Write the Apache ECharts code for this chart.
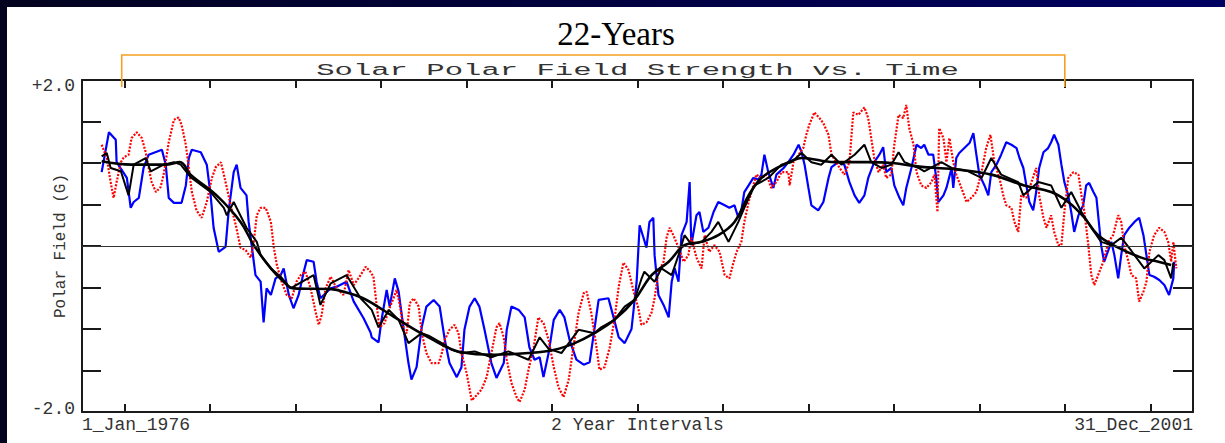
<!DOCTYPE html>
<html>
<head>
<meta charset="utf-8">
<script src="https://cdn.jsdelivr.net/npm/echarts@6/dist/echarts.min.js"></script>
<style>
  html, body { margin: 0; padding: 0; width: 1225px; height: 443px; overflow: hidden;
    background: linear-gradient(to right, #03031f, #000062); }
  #main { position: absolute; left: 7px; top: 7px; width: 1218px; height: 436px; background: #ffffff; }
</style>
</head>
<body>
<div id="main"></div>
<script>
// labels
var chartTitle = '22-Years';
var chartSubtitle = 'Solar Polar Field Strength vs. Time';
var yName = 'Polar Field (G)';
var xLabelText = ['1_Jan_1976', '2 Year Intervals', '31_Dec_2001'];
var xLabelSlot = [0, 13, 26];          // category slots, one slot = 1 year, slot 1 = 1_Jan_1976
var yLabelValue = [2, -2];
var yLabelText = ['+2.0', '-2.0'];
var spanYears = [0, 22];               // the 22-year bracket

// [years from 1_Jan_1976, field]
var bluePts = [[-0.54,0.89],[-0.37,1.37],[-0.21,1.28],[-0.19,1.01],[0.05,0.82],[0.14,0.46],[0.21,0.53],[0.33,0.58],
  [0.44,0.94],[0.56,1.10],[0.87,1.16],[0.96,0.98],[1.03,0.58],[1.15,0.52],[1.33,0.52],[1.43,0.73],[1.50,1.06],
  [1.57,1.16],[1.78,1.13],[1.92,0.98],[2.01,0.61],[2.08,0.22],[2.20,-0.07],[2.36,-0.01],[2.43,0.41],[2.55,0.89],
  [2.62,0.98],[2.71,0.70],[2.85,0.61],[2.90,0.29],[2.97,0.01],[3.06,-0.35],[3.18,-0.43],[3.25,-0.92],[3.32,-0.51],
  [3.42,-0.59],[3.53,-0.39],[3.65,-0.35],[3.72,-0.27],[3.84,-0.59],[3.95,-0.75],[4.07,-0.59],[4.19,-0.31],
  [4.26,-0.17],[4.42,-0.19],[4.49,-0.43],[4.58,-0.63],[4.82,-0.51],[4.96,-0.49],[5.19,-0.43],[5.36,-0.67],
  [5.59,-0.87],[5.75,-1.04],[5.78,-1.10],[5.94,-1.16],[6.01,-0.89],[6.13,-0.53],[6.20,-0.73],[6.32,-0.39],
  [6.41,-0.55],[6.53,-1.01],[6.64,-1.41],[6.71,-1.61],[6.83,-1.46],[6.95,-0.98],[7.06,-0.73],[7.23,-0.65],
  [7.37,-0.73],[7.49,-1.13],[7.60,-1.41],[7.77,-1.58],[7.88,-1.46],[7.95,-1.01],[8.07,-0.73],[8.19,-0.63],
  [8.30,-0.73],[8.42,-1.01],[8.58,-1.41],[8.70,-1.59],[8.87,-1.41],[8.94,-1.01],[9.05,-0.73],[9.22,-0.77],
  [9.36,-0.86],[9.47,-1.22],[9.59,-1.37],[9.71,-1.34],[9.80,-1.58],[9.92,-1.29],[10.04,-0.89],[10.18,-0.77],
  [10.29,-0.86],[10.41,-1.13],[10.57,-1.37],[10.74,-1.43],[10.88,-1.40],[10.99,-1.01],[11.09,-0.65],[11.32,-0.63],
  [11.44,-0.86],[11.56,-1.10],[11.70,-1.17],[11.86,-1.00],[11.98,-0.43],[12.05,0.25],[12.14,0.10],[12.21,-0.02],
  [12.28,0.29],[12.37,0.34],[12.40,-0.11],[12.49,-0.59],[12.61,-0.71],[12.73,-0.86],[12.80,-0.43],[12.87,-0.27],
  [12.96,-0.43],[13.03,0.13],[13.15,0.29],[13.22,0.77],[13.26,0.01],[13.38,0.37],[13.45,0.41],[13.54,0.17],
  [13.66,0.22],[13.78,0.41],[13.89,0.53],[14.04,0.49],[14.15,0.46],[14.27,0.49],[14.36,0.34],[14.43,0.43],
  [14.50,0.65],[14.60,0.73],[14.71,0.82],[14.83,0.80],[14.90,0.86],[14.97,1.10],[15.06,0.89],[15.18,0.70],
  [15.25,0.86],[15.42,0.94],[15.53,1.01],[15.65,1.10],[15.77,1.22],[15.84,1.13],[15.91,0.98],[16.00,0.70],
  [16.07,0.49],[16.23,0.43],[16.35,0.53],[16.47,0.82],[16.54,0.95],[16.70,1.01],[16.84,0.98],[16.96,0.77],
  [17.08,0.61],[17.19,0.52],[17.31,0.61],[17.40,0.82],[17.54,1.01],[17.66,1.10],[17.75,1.19],[17.82,0.89],
  [17.94,0.94],[18.01,0.73],[18.13,0.58],[18.22,0.49],[18.29,0.70],[18.41,0.94],[18.53,1.22],[18.64,1.18],
  [18.71,1.22],[18.81,1.10],[18.92,1.10],[18.99,0.82],[19.04,0.53],[19.16,0.61],[19.23,0.70],[19.35,0.94],
  [19.39,0.70],[19.46,1.06],[19.53,1.12],[19.65,1.18],[19.77,1.24],[19.86,1.36],[19.93,1.10],[20.00,0.86],
  [20.12,0.73],[20.21,0.61],[20.28,0.89],[20.40,0.98],[20.51,1.10],[20.63,1.25],[20.75,1.22],[20.87,1.18],
  [20.94,1.06],[21.03,0.94],[21.10,0.73],[21.17,0.53],[21.26,0.43],[21.33,0.65],[21.40,0.94],[21.50,1.13],
  [21.61,1.18],[21.68,1.25],[21.75,1.34],[21.85,1.22],[21.92,0.98],[21.99,0.77],[22.08,0.61],[22.15,0.41],
  [22.22,0.17],[22.32,0.37],[22.43,0.49],[22.50,0.73],[22.57,0.76],[22.67,0.65],[22.74,0.58],[22.81,0.22],
  [22.85,0.01],[22.92,-0.19],[23.09,0.05],[23.16,-0.11],[23.25,-0.39],[23.32,-0.11],[23.39,0.13],[23.51,0.22],
  [23.63,0.29],[23.74,0.34],[23.84,0.13],[23.91,-0.11],[23.98,-0.35],[24.09,-0.37],[24.21,-0.41],[24.33,-0.47],
  [24.44,-0.59],[24.54,-0.39],[24.56,-0.19]];

var redPts = [[-0.54,1.22],[-0.42,1.06],[-0.33,0.77],[-0.26,0.58],[-0.19,0.77],[-0.09,1.01],[-0.02,1.07],[0.09,1.10],
  [0.16,1.30],[0.28,1.37],[0.40,1.30],[0.49,1.13],[0.56,0.94],[0.63,0.77],[0.73,0.65],[0.84,0.71],[0.91,0.86],
  [1.03,1.25],[1.15,1.52],[1.26,1.55],[1.33,1.46],[1.43,1.22],[1.50,0.94],[1.57,0.65],[1.68,0.43],[1.80,0.34],
  [1.92,0.53],[2.04,0.82],[2.13,0.95],[2.25,1.01],[2.32,0.86],[2.39,0.70],[2.48,0.49],[2.60,0.25],[2.71,-0.02],
  [2.83,-0.05],[2.95,-0.14],[3.02,0.05],[3.09,0.37],[3.18,0.46],[3.30,0.46],[3.42,0.29],[3.49,-0.02],[3.56,-0.23],
  [3.67,-0.43],[3.79,-0.59],[3.91,-0.63],[4.02,-0.43],[4.12,-0.35],[4.23,-0.31],[4.35,-0.51],[4.47,-0.80],
  [4.54,-0.95],[4.61,-0.83],[4.70,-0.51],[4.82,-0.37],[4.96,-0.51],[5.12,-0.59],[5.24,-0.29],[5.36,-0.47],
  [5.52,-0.35],[5.64,-0.25],[5.75,-0.31],[5.82,-0.37],[5.89,-0.69],[5.96,-0.98],[6.08,-0.93],[6.18,-0.77],
  [6.29,-0.63],[6.36,-0.53],[6.43,-0.69],[6.53,-1.01],[6.60,-1.05],[6.67,-0.69],[6.76,-0.63],[6.88,-0.73],
  [6.95,-1.05],[7.06,-1.29],[7.18,-1.41],[7.35,-1.41],[7.42,-1.29],[7.49,-1.13],[7.60,-1.01],[7.72,-0.95],
  [7.81,-1.05],[7.88,-1.29],[8.00,-1.53],[8.12,-1.86],[8.23,-1.80],[8.35,-1.73],[8.47,-1.58],[8.58,-1.29],
  [8.70,-0.98],[8.77,-0.93],[8.87,-1.10],[8.94,-1.37],[9.05,-1.65],[9.17,-1.82],[9.24,-1.88],[9.36,-1.73],
  [9.45,-1.49],[9.57,-1.22],[9.68,-0.86],[9.80,-0.93],[9.92,-1.13],[10.04,-1.46],[10.15,-1.70],[10.27,-1.82],
  [10.39,-1.61],[10.50,-1.22],[10.62,-0.81],[10.74,-0.57],[10.81,-0.55],[10.92,-0.81],[11.04,-1.22],[11.11,-1.49],
  [11.23,-1.46],[11.35,-1.22],[11.46,-0.89],[11.56,-0.49],[11.67,-0.20],[11.79,-0.29],[11.91,-0.55],[12.02,-0.75],
  [12.09,-0.95],[12.21,-0.92],[12.33,-0.80],[12.40,-0.63],[12.49,-0.31],[12.61,-0.19],[12.68,0.10],[12.75,0.22],
  [12.84,0.13],[12.96,-0.02],[13.08,-0.19],[13.19,-0.11],[13.26,0.10],[13.38,-0.14],[13.50,-0.27],[13.57,0.13],
  [13.68,-0.07],[13.80,0.01],[13.92,-0.07],[14.04,-0.35],[14.15,-0.39],[14.25,-0.19],[14.32,-0.07],[14.43,0.05],
  [14.50,0.29],[14.60,0.53],[14.71,0.73],[14.78,0.86],[14.90,0.82],[15.02,0.86],[15.13,0.70],[15.25,0.77],
  [15.37,0.89],[15.53,0.89],[15.56,0.73],[15.65,1.01],[15.77,1.10],[15.88,1.18],[15.95,1.34],[16.02,1.46],
  [16.14,1.61],[16.26,1.54],[16.35,1.48],[16.47,1.34],[16.54,1.10],[16.65,1.01],[16.73,0.94],[16.84,0.86],
  [16.96,1.01],[17.05,1.61],[17.17,1.58],[17.31,1.67],[17.40,1.54],[17.47,1.30],[17.54,1.06],[17.64,0.89],
  [17.75,0.98],[17.82,0.82],[17.94,0.86],[18.01,1.22],[18.11,1.58],[18.22,1.54],[18.29,1.70],[18.36,1.42],
  [18.46,1.22],[18.53,0.89],[18.64,0.73],[18.76,0.70],[18.88,0.77],[18.95,0.86],[19.02,0.41],[19.06,1.42],
  [19.16,1.30],[19.23,1.01],[19.30,1.30],[19.39,1.01],[19.46,0.86],[19.58,0.70],[19.70,0.53],[19.81,0.58],
  [19.93,0.65],[20.05,0.89],[20.16,1.18],[20.26,1.34],[20.35,1.01],[20.47,0.82],[20.56,0.61],[20.63,0.49],
  [20.75,0.46],[20.82,0.29],[20.91,0.17],[20.98,0.61],[21.10,0.58],[21.22,0.77],[21.33,0.94],[21.40,0.61],
  [21.50,0.34],[21.57,0.22],[21.68,0.37],[21.75,0.17],[21.85,0.01],[21.92,0.01],[21.99,0.41],[22.08,0.82],
  [22.20,0.89],[22.32,0.86],[22.39,0.61],[22.46,0.41],[22.55,0.01],[22.62,-0.35],[22.69,-0.47],[22.78,-0.35],
  [22.90,-0.19],[23.02,0.05],[23.13,0.13],[23.25,0.37],[23.32,0.29],[23.39,0.01],[23.49,-0.19],[23.56,-0.35],
  [23.67,-0.39],[23.74,-0.67],[23.84,-0.55],[23.91,-0.43],[23.98,-0.07],[24.09,0.13],[24.21,0.22],[24.33,0.17],
  [24.42,0.05],[24.49,-0.19],[24.54,0.05],[24.61,-0.27]];

var blackPts = [[-0.54,1.08],[-0.42,1.12],[-0.33,0.94],[-0.09,0.90],[0.09,0.61],[0.21,0.98],[0.49,1.06],[0.61,0.90],
  [0.91,0.98],[1.15,1.01],[1.31,0.98],[1.54,0.83],[2.01,0.65],[2.32,0.46],[2.39,0.37],[2.55,0.53],[2.85,0.22],
  [3.09,0.05],[3.18,-0.11],[3.42,-0.27],[3.65,-0.37],[3.88,-0.51],[4.42,-0.35],[4.58,-0.71],[4.82,-0.45],
  [5.19,-0.35],[5.52,-0.63],[5.78,-0.77],[5.94,-0.98],[6.18,-0.77],[6.41,-0.89],[6.64,-1.17],[6.95,-1.05],
  [7.11,-1.08],[7.42,-1.17],[7.65,-1.25],[7.88,-1.29],[8.19,-1.27],[8.58,-1.34],[8.98,-1.27],[9.45,-1.37],
  [9.71,-1.10],[9.92,-1.24],[10.22,-1.29],[10.62,-1.01],[10.99,-1.05],[11.15,-0.98],[11.46,-0.89],[11.70,-0.73],
  [11.93,-0.65],[12.09,-0.40],[12.16,-0.31],[12.40,-0.43],[12.56,-0.27],[12.80,-0.35],[12.96,-0.11],[13.10,0.13],
  [13.26,0.02],[13.50,0.05],[13.73,0.17],[13.89,0.29],[14.13,0.05],[14.36,0.29],[14.50,0.46],[14.74,0.73],
  [15.06,0.82],[15.37,0.98],[15.60,1.01],[15.84,1.12],[16.07,1.01],[16.30,0.98],[16.54,1.10],[16.77,0.98],
  [17.08,1.10],[17.31,1.22],[17.47,1.01],[17.71,0.94],[17.94,0.98],[18.11,1.13],[18.25,1.01],[18.58,0.94],
  [18.71,0.90],[19.11,1.01],[19.35,0.94],[19.74,0.90],[20.05,0.82],[20.28,1.06],[20.51,0.86],[20.91,0.77],
  [21.03,0.61],[21.38,0.77],[21.68,0.73],[21.92,0.46],[22.15,0.65],[22.39,0.41],[22.62,0.22],[22.85,0.05],
  [23.09,0.01],[23.32,0.10],[23.56,-0.06],[23.86,-0.27],[24.19,-0.11],[24.33,-0.17],[24.49,-0.39],[24.54,-0.20]];

var smoothPts = [[-0.54,1.02],[0.16,0.98],[0.98,0.98],[1.29,1.01],[1.54,0.86],[2.15,0.61],[2.71,0.29],[3.02,0.01],
  [3.42,-0.27],[3.72,-0.43],[3.95,-0.51],[4.84,-0.52],[5.19,-0.56],[5.54,-0.62],[5.89,-0.72],[6.32,-0.86],
  [7.11,-1.10],[7.88,-1.28],[8.65,-1.31],[9.45,-1.29],[10.06,-1.25],[10.53,-1.17],[10.99,-1.05],[11.46,-0.89],
  [11.93,-0.65],[12.33,-0.35],[12.73,-0.19],[13.10,0.01],[13.50,0.05],[13.89,0.13],[14.27,0.29],[14.60,0.61],
  [14.90,0.82],[15.30,0.95],[15.67,1.04],[15.84,1.06],[16.61,1.01],[17.40,1.01],[17.94,1.00],[18.71,0.95],
  [19.51,0.92],[20.28,0.86],[21.05,0.73],[21.68,0.65],[22.08,0.53],[22.46,0.34],[22.78,0.13],[23.25,-0.02],
  [23.79,-0.14],[24.19,-0.19],[24.49,-0.23]];

var slots = [];
for (var i = 0; i <= 26; i++) {
    var k = xLabelSlot.indexOf(i);
    slots.push(k >= 0 ? xLabelText[k] : '');
}

var monoFont = 'Liberation Mono';
var ink = '#1a1a1a';

var chart = echarts.init(document.getElementById('main'), null, { renderer: 'svg' });

var option = {
    animation: false,
    backgroundColor: '#ffffff',
    title: {
        text: chartTitle,
        left: 'center',
        top: 5,
        textStyle: { fontFamily: 'Liberation Serif', fontWeight: 'normal', fontSize: 33, color: '#000000' }
    },
    grid: { left: 75, top: 73, right: 32, bottom: 31 },
    xAxis: [
        {
            type: 'category', position: 'bottom', boundaryGap: false, data: slots,
            axisLine: { onZero: false, lineStyle: { color: ink, width: 2 } },
            axisTick: { inside: true, length: 8, lineStyle: { color: ink, width: 2 },
                interval: function (idx) { return idx % 2 === 1; } },
            axisLabel: { interval: 0, margin: 4, fontFamily: monoFont, fontSize: 18, color: '#333',
                alignMinLabel: 'left', alignMaxLabel: 'right' },
            splitLine: { show: false }
        },
        {
            type: 'category', position: 'top', boundaryGap: false, data: slots,
            axisLine: { onZero: false, lineStyle: { color: ink, width: 2 } },
            axisTick: { inside: true, length: 8, lineStyle: { color: ink, width: 2 },
                interval: function (idx) { return idx % 2 === 1; } },
            axisLabel: { show: false },
            splitLine: { show: false }
        },
        { type: 'value', min: -1, max: 25, show: false, axisLine: { onZero: false } }
    ],
    yAxis: [
        {
            type: 'value', min: -2, max: 2, interval: 0.5, position: 'left',
            name: yName, nameLocation: 'middle', nameGap: 13, nameRotate: 90, nameMoveOverlap: false,
            nameTextStyle: { fontFamily: monoFont, fontSize: 16, color: '#333' },
            axisLine: { show: true, onZero: false, lineStyle: { color: ink, width: 2 } },
            axisTick: { show: true, inside: true, length: 19, lineStyle: { color: ink, width: 2 } },
            axisLabel: {
                margin: 7, fontFamily: monoFont, fontSize: 18, color: '#333',
                formatter: function (v) {
                    var k = yLabelValue.indexOf(v);
                    if (k < 0) return '';
                    return (v > 0 ? '{hi|' : '{lo|') + yLabelText[k] + '}';
                },
                rich: {
                    hi: { fontFamily: monoFont, fontSize: 18, color: '#333', padding: [12, 0, 0, 0] },
                    lo: { fontFamily: monoFont, fontSize: 18, color: '#333', padding: [0, 0, 6, 0] }
                }
            },
            splitLine: { show: false }
        },
        {
            type: 'value', min: -2, max: 2, interval: 0.5, position: 'right',
            axisLine: { show: true, onZero: false, lineStyle: { color: ink, width: 2 } },
            axisTick: { show: true, inside: true, length: 20, lineStyle: { color: ink, width: 2 } },
            axisLabel: { show: false },
            splitLine: { show: false }
        }
    ],
    series: [
        {
            name: 'blue', type: 'line', xAxisIndex: 2, yAxisIndex: 0, data: bluePts,
            showSymbol: false, symbol: 'none',
            lineStyle: { color: '#0000ff', width: 2.2 }
        },
        {
            name: 'red', type: 'line', xAxisIndex: 2, yAxisIndex: 0, data: redPts,
            showSymbol: false, symbol: 'none',
            lineStyle: { color: '#ff0000', width: 2.2, type: [2, 1.5] }
        },
        {
            name: 'black', type: 'line', xAxisIndex: 2, yAxisIndex: 0, data: blackPts,
            showSymbol: false, symbol: 'none',
            lineStyle: { color: '#000000', width: 2 }
        },
        {
            name: 'fit', type: 'line', xAxisIndex: 2, yAxisIndex: 0, data: smoothPts,
            showSymbol: false, symbol: 'none', smooth: 0.4,
            lineStyle: { color: '#000000', width: 2.6 },
            markLine: {
                silent: true, symbol: ['none', 'none'], label: { show: false },
                lineStyle: { color: '#333', width: 1.2, type: 'solid' },
                data: [{ yAxis: 0 }]
            }
        }
    ]
};
chart.setOption(option);

// bracket over the 22 years and the inner title
var xa = chart.convertToPixel({ xAxisIndex: 2 }, spanYears[0]);
var xb = chart.convertToPixel({ xAxisIndex: 2 }, spanYears[1]);
var yTop = chart.convertToPixel({ yAxisIndex: 0 }, 2);
var xMid = chart.convertToPixel({ xAxisIndex: 0 }, 13);
chart.setOption({
    graphic: [
        {
            type: 'polyline', silent: true, z: 10,
            shape: { points: [[xa - 3, yTop + 7], [xa - 3, yTop - 25], [xb, yTop - 25], [xb, yTop + 7]] },
            style: { stroke: '#f5a021', lineWidth: 1.6, fill: null }
        },
        {
            type: 'text', silent: true, z: 10,
            x: xMid, y: yTop - 10, scaleX: 1.8, scaleY: 1,
            style: { text: chartSubtitle, fontFamily: monoFont, fontSize: 17, fill: '#333',
                align: 'center', verticalAlign: 'middle' }
        }
    ]
});
</script>
</body>
</html>
